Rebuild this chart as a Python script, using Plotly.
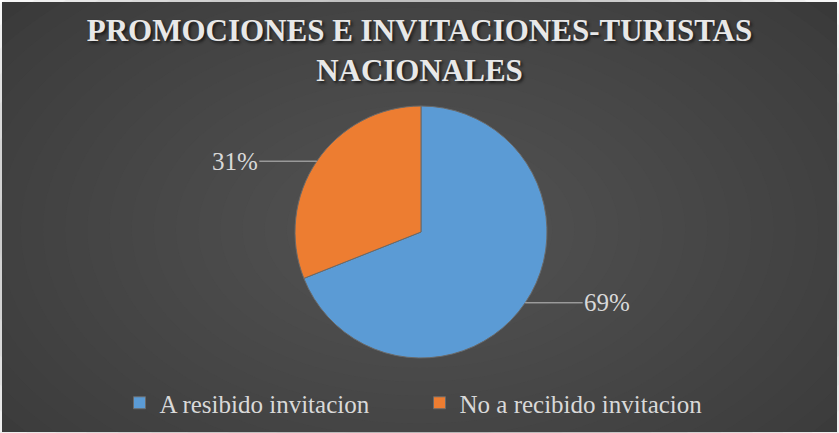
import math
import plotly.graph_objects as go

labels = ["A resibido invitacion", "No a recibido invitacion"]
values = [69, 31]
colors = ["#5B9BD5", "#ED7D31"]
title_text = "PROMOCIONES E INVITACIONES-TURISTAS<br>NACIONALES"

W, H = 839, 433
cx_px, cy_px, R = 421, 232, 126
cx, cy = cx_px / W, 1 - cy_px / H
SERIF = "Liberation Serif, Times New Roman, serif"

fig = go.Figure()
fig.add_trace(go.Pie(
    labels=labels, values=values, sort=False, direction="clockwise", rotation=0,
    marker=dict(colors=colors, line=dict(color="#6a6a6a", width=1)),
    textinfo="none", hoverinfo="label+percent",
    domain=dict(x=[cx - R / W, cx + R / W], y=[cy - R / H, cy + R / H]),
    showlegend=True,
))

# outside percentage labels with leader lines, positioned from the data
annotations = []
total = sum(values)
cum = 0
for v in values:
    mid = (cum + v / 2) / total
    cum += v
    th = 2 * math.pi * mid
    px = cx + R * math.sin(th) / W
    py = cy + R * math.cos(th) / H
    side = 1 if math.sin(th) >= 0 else -1
    annotations.append(dict(
        x=px, y=py, xref="paper", yref="paper",
        text=f"{round(100 * v / total)}%", showarrow=True, arrowhead=0,
        arrowwidth=1, arrowcolor="#bfbfbf", ax=side * 82, ay=0,
        font=dict(family=SERIF, size=25, color="#d9d9d9"),
    ))

shapes = [dict(type="rect", xref="paper", yref="paper", x0=2 / W, x1=1 - 2 / W,
               y0=1 / H, y1=1 - 2 / H, fillcolor="#373737", line=dict(width=0), layer="below")]
n = 25
for i in range(n):
    f = 1 - i / n
    rx, ry = 0.66 * f, 0.8 * f
    shapes.append(dict(type="circle", xref="paper", yref="paper",
                       x0=0.5 - rx, x1=0.5 + rx, y0=0.47 - ry, y1=0.47 + ry,
                       fillcolor="#666666", opacity=0.05, line=dict(width=0), layer="below"))

fig.update_layout(
    width=W, height=H, margin=dict(l=0, r=0, t=0, b=0),
    paper_bgcolor="#ffffff", plot_bgcolor="rgba(0,0,0,0)",
    title=dict(text=title_text, x=0.5, xanchor="center", y=1 - 41 / H, yanchor="middle",
               font=dict(family=SERIF, size=31, color="#e8e8e8", weight="bold",
                         shadow="2px 2px 3px #1a1a1a")),
    legend=dict(orientation="h", x=0.5, xanchor="center", y=1 - 403 / H, yanchor="middle",
                font=dict(family=SERIF, size=25, color="#d9d9d9"),
                bgcolor="rgba(0,0,0,0)", itemwidth=30, entrywidth=255),
    annotations=annotations, shapes=shapes,
)

fig.write_html("out.html")
